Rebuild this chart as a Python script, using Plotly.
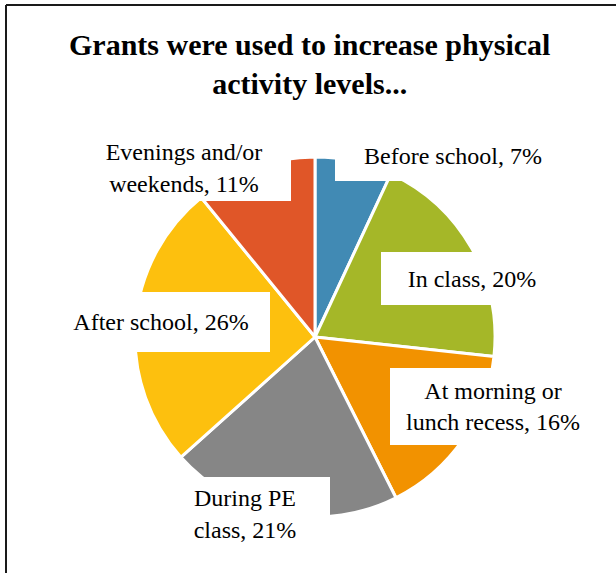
import plotly.graph_objects as go

W, H = 616, 573

# Share of grants by time of day the physical activity took place
categories = [
    "Before school",
    "In class",
    "At morning or lunch recess",
    "During PE class",
    "After school",
    "Evenings and/or weekends",
]
percent = [7, 20, 16, 21, 26, 11]
label_text = [
    "Before school",
    "In class",
    "At morning or<br>lunch recess",
    "During PE<br>class",
    "After school",
    "Evenings and/or<br>weekends",
]
colors = ["#418AB4", "#A5B728", "#F29200", "#868686", "#FDC00E", "#E05628"]

# Label box placement in pixels: centre x, centre y, box width, box height
label_boxes = [
    (453, 156, 236, 50),
    (472, 278, 182, 53),
    (493, 406, 206, 77),
    (245, 514, 170, 74),
    (161, 322, 218, 60),
    (184, 168, 214, 66),
]

# Pie geometry in pixels
cx, cy, r = 315, 337, 180

fig = go.Figure()
fig.add_trace(go.Pie(
    labels=categories,
    values=percent,
    sort=False,
    direction="clockwise",
    rotation=0,
    textinfo="none",
    hoverinfo="label+percent",
    marker=dict(colors=colors, line=dict(color="white", width=3)),
    domain=dict(x=[(cx - r) / W, (cx + r) / W],
                y=[(H - cy - r) / H, (H - cy + r) / H]),
    showlegend=False,
))

serif = "Liberation Serif, Times New Roman, serif"

for lab, val, (bx, by, bw, bh) in zip(label_text, percent, label_boxes):
    fig.add_annotation(
        x=bx / W, y=1 - by / H, xref="paper", yref="paper",
        xanchor="center", yanchor="middle",
        text=f"{lab}, {val}%",
        showarrow=False,
        font=dict(family=serif, size=24, color="#000000"),
        bgcolor="white", borderwidth=0, borderpad=0,
        width=bw, height=bh, align="center", valign="middle",
    )

fig.add_annotation(
    x=309 / W, y=1 - 64 / H, xref="paper", yref="paper",
    xanchor="center", yanchor="middle",
    text="<b>Grants were used to increase physical<br>activity levels...</b>",
    showarrow=False,
    font=dict(family=serif, size=30, color="#000000"),
    align="center",
)

# Chart frame (left and top edges)
fig.add_shape(type="line", xref="paper", yref="paper",
              x0=6 / W, y0=0, x1=6 / W, y1=1 - 5 / H,
              line=dict(color="#1a1a1a", width=2))
fig.add_shape(type="line", xref="paper", yref="paper",
              x0=6 / W, y0=1 - 5 / H, x1=1, y1=1 - 5 / H,
              line=dict(color="#1a1a1a", width=2))

fig.update_layout(
    width=W, height=H,
    margin=dict(l=0, r=0, t=0, b=0),
    paper_bgcolor="white",
    plot_bgcolor="white",
)

fig.write_html("out.html")
